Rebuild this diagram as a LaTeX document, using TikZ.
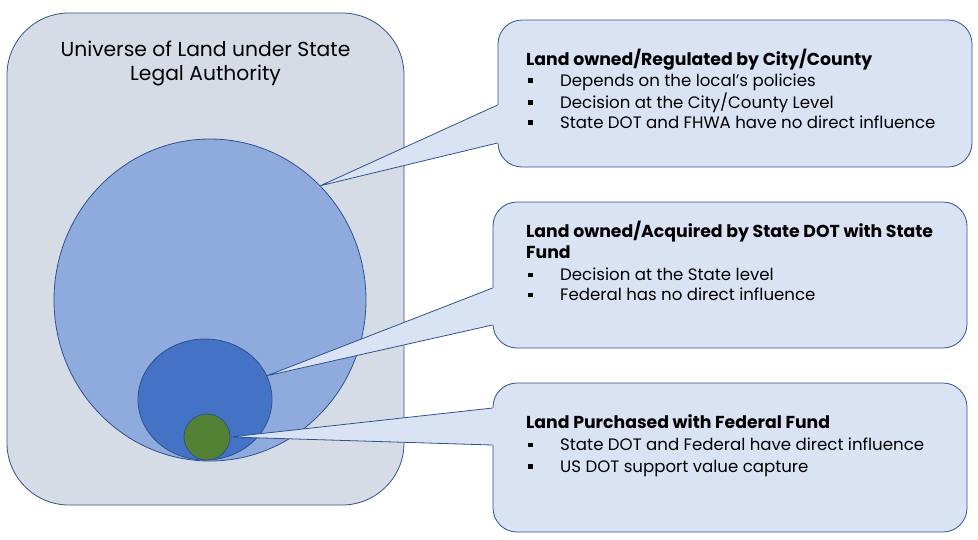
\documentclass[tikz,border=0pt]{standalone}
\usepackage{fontspec}
\setmainfont{Poppins}
\usetikzlibrary{shapes.geometric,calc}

\definecolor{boxfill}{HTML}{D6DCE5}
\definecolor{boxline}{HTML}{2F528F}
\definecolor{bigfill}{HTML}{8FAADC}
\definecolor{midfill}{HTML}{4472C4}
\definecolor{fedfill}{HTML}{548235}
\definecolor{notefill}{HTML}{DAE3F3}

\tikzset{
  region/.style={draw=boxline, line width=0.8pt, inner sep=0pt},
  land/.style={region, ellipse},
  note/.style={region, fill=notefill, rounded corners=24pt, minimum width=474pt},
  head/.style={anchor=base west, inner sep=0pt, font=\fontsize{17.3}{20}\selectfont\bfseries},
  point/.style={anchor=base west, inner sep=0pt, font=\fontsize{16.6}{20}\selectfont},
}
\newcommand{\sqmark}{\makebox[32pt][l]{\rule[3.5pt]{4.5pt}{4.5pt}}}

\begin{document}
\begin{tikzpicture}[x=1pt,y=-1pt]
\useasboundingbox (0,0) rectangle (978,539);

\node[region, fill=boxfill, rounded corners=62pt, minimum width=397pt, minimum height=492pt] (universe) at (205.5,259) {};
\node[anchor=base, inner sep=0pt, font=\fontsize{20.3}{24}\selectfont] at (205.5,56) {Universe of Land under State};
\node[anchor=base, inner sep=0pt, font=\fontsize{20.3}{24}\selectfont] at (205.5,80) {Legal Authority};

\node[land, fill=bigfill, minimum width=312pt, minimum height=322pt] (city) at (210,300) {};
\node[land, fill=midfill, minimum width=134pt, minimum height=121pt] (state) at (205,399.5) {};
\node[land, fill=fedfill, minimum size=46pt] (federal) at (207,437) {};

\node[note, minimum height=147pt] (noteCity) at (735,93.5) {};
\node[note, minimum height=146pt] (noteState) at (730,275) {};
\node[note, minimum height=149pt] (noteFed) at (730,457.5) {};

% pointers
\foreach \n/\t/\a/\b in {noteCity/city.46/-11.5/-49.5, noteState/state.21/-13/-50, noteFed/federal.east/49.5/12.5} {
  \fill[notefill] ([yshift=\a pt]\n.west) -- (\t) -- ([yshift=\b pt]\n.west)
    -- ([xshift=2pt,yshift=\b pt]\n.west) -- ([xshift=2pt,yshift=\a pt]\n.west) -- cycle;
  \draw[boxline, line width=0.8pt] ([yshift=\a pt]\n.west) -- (\t) -- ([yshift=\b pt]\n.west);
}

\node[head] at (526,65) {Land owned/Regulated by City/County};
\node[point] at (528,86) {\sqmark Depends on the local’s policies};
\node[point] at (528,108) {\sqmark Decision at the City/County Level};
\node[point] at (528,128) {\sqmark State DOT and FHWA have no direct influence};

\node[head] at (526,237) {Land owned/Acquired by State DOT with State};
\node[head] at (526,258) {Fund};
\node[point] at (528,280.5) {\sqmark Decision at the State level};
\node[point] at (528,300.5) {\sqmark Federal has no direct influence};

\node[head] at (526,428.5) {Land Purchased with Federal Fund};
\node[point] at (528,450.5) {\sqmark State DOT and Federal have direct influence};
\node[point] at (528,472) {\sqmark US DOT support value capture};
\end{tikzpicture}
\end{document}
